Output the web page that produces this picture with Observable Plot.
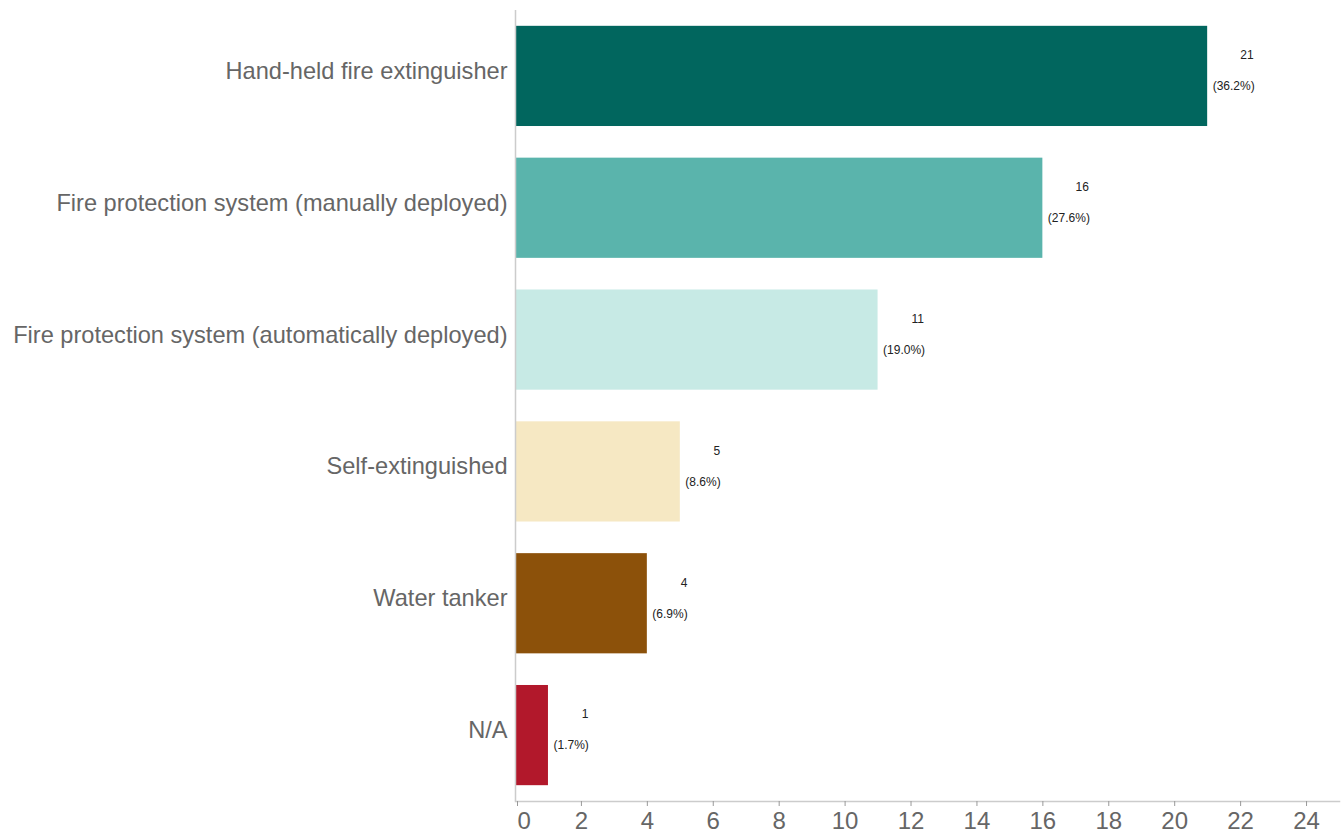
<!DOCTYPE html>
<html>
<head>
<meta charset="utf-8">
<script src="https://cdn.jsdelivr.net/npm/d3@7"></script>
<script src="https://cdn.jsdelivr.net/npm/@observablehq/plot@0.6"></script>
<style>
  html, body { margin: 0; padding: 0; background: #fff; }
  #chart svg { display: block; }
</style>
</head>
<body>
<div id="chart"></div>
<script>
const categories = [
  "Hand-held fire extinguisher",
  "Fire protection system (manually deployed)",
  "Fire protection system (automatically deployed)",
  "Self-extinguished",
  "Water tanker",
  "N/A"
];
const counts = [21, 16, 11, 5, 4, 1];
const percents = ["36.2%", "27.6%", "19.0%", "8.6%", "6.9%", "1.7%"];
const colors = ["#01665E", "#5AB4AC", "#C7EAE5", "#F6E8C3", "#8C510A", "#B2182B"];
const xTicks = [0, 2, 4, 6, 8, 10, 12, 14, 16, 18, 20, 22, 24];

const data = categories.map((c, i) => ({category: c, count: counts[i], pct: percents[i]}));

const font = "'Liberation Sans', Arial, Helvetica, sans-serif";

const chart = Plot.plot({
  width: 1344,
  height: 832,
  marginLeft: 515,
  marginRight: 5,
  marginTop: 10,
  marginBottom: 31,
  style: {fontFamily: font, background: "#fff"},
  x: {domain: [0, 25]},
  y: {domain: categories, paddingInner: 0.24, paddingOuter: 0.12, round: false},
  color: {domain: categories, range: colors},
  marks: [
    Plot.barX(data, {y: "category", x: "count", fill: "category"}),
    Plot.ruleX([0], {stroke: "#cccccc", strokeWidth: 1.5}),
    Plot.frame({anchor: "bottom", stroke: "#cccccc", strokeWidth: 1.5}),
    Plot.axisY({tickSize: 0, tickPadding: 8, fontSize: 23.6, fill: "#666666", dy: -5, label: null}),
    Plot.axisX({ticks: xTicks.filter(t => t > 0), tickSize: 5, tickPadding: 5, fontSize: 24, fill: "#666666", stroke: "#999999", label: null, tickFormat: d => String(d)}),
    Plot.axisX({ticks: xTicks.filter(t => t === 0), tickSize: 5, tickPadding: 5, fontSize: 24, fill: "#666666", stroke: "#999999", textAnchor: "start", dx: 2, label: null, tickFormat: d => String(d)}),
    Plot.text(data.filter(d => d.count >= 10), {y: "category", x: "count", text: d => String(d.count), textAnchor: "end", dx: 46, dy: -21, fontSize: 12, fill: "#222"}),
    Plot.text(data.filter(d => d.count < 10), {y: "category", x: "count", text: d => String(d.count), textAnchor: "end", dx: 40, dy: -21, fontSize: 12, fill: "#222"}),
    Plot.text(data, {y: "category", x: "count", text: d => "(" + d.pct + ")", textAnchor: "start", dx: 5, dy: 10, fontSize: 12, fill: "#222"})
  ]
});
document.getElementById("chart").appendChild(chart);
</script>
</body>
</html>
